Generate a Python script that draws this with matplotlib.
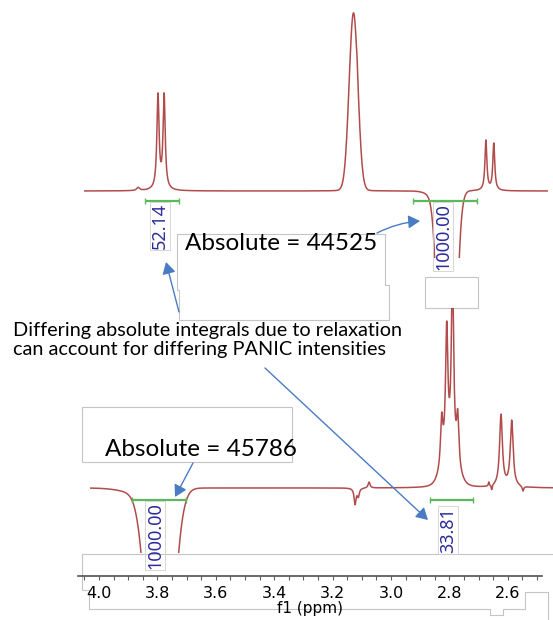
import numpy as np
import matplotlib
matplotlib.use("Agg")
import matplotlib.pyplot as plt
from matplotlib.patches import Rectangle, FancyArrowPatch, Polygon
from matplotlib.ticker import MultipleLocator, FixedLocator

W, H = 553, 620

# top spectrum, peaks (ppm, height, half width in ppm)
top_lor_ppm = [3.866, 3.798, 3.777, 3.116, 3.13, 2.675, 2.648]
top_lor_height = [3, 94, 94, 6, 4, 50, 47]
top_lor_width = [0.006, 0.0045, 0.0045, 0.002, 0.02, 0.004, 0.004]
top_gau_ppm = [3.1284, 2.808, 2.845]
top_gau_height = [174, -600, -5]
top_gau_width = [0.0150, 0.02, 0.03]

# bottom (PANIC) spectrum
bot_lor_ppm = [3.123, 3.112, 3.075, 2.8264, 2.8092, 2.7894, 2.7716, 2.665, 2.655, 2.6233, 2.5866, 2.548]
bot_lor_height = [-16, -8, 6, 47, 125, 180, 49, 4, -5, 72, 66, -5]
bot_lor_width = [0.004, 0.004, 0.004, 0.0048, 0.0048, 0.0048, 0.0048, 0.002, 0.002, 0.0058, 0.0058, 0.003]
bot_gau_ppm = [3.791, 3.86, 2.7997]
bot_gau_height = [-340, -5, 30]
bot_gau_width = [0.035, 0.06, 0.024]

# integrals: label, from, to, label position (ppm)
top_int_labels = ["52.14", "1000.00"]
top_int_from = [3.842, 2.925]
top_int_to = [3.726, 2.705]
top_int_at = [3.791, 2.822]
bot_int_labels = ["1000.00", "33.81"]
bot_int_from = [3.887, 2.866]
bot_int_to = [3.702, 2.719]
bot_int_at = [3.808, 2.805]

tick_values = [4.0, 3.8, 3.6, 3.4, 3.2, 3.0, 2.8, 2.6]
abs_top = "Absolute = 44525"
abs_bot = "Absolute = 45786"
note = "Differing absolute integrals due to relaxation\ncan account for differing PANIC intensities"

RED = "#b24c4c"
GREEN = "#5cb85c"
NAVY = "#2b2b9c"
BLUE = "#4a7cc4"
GREY = "#c4c4c4"


def ppm_at(x):
    # pixel column -> chemical shift
    return 4.0 - (x - 99) / 292.0


def px_axes(fig, left, top, right, bottom, z):
    ax = fig.add_axes([left / W, 1 - bottom / H, (right - left) / W, (bottom - top) / H])
    ax.set_zorder(z)
    ax.patch.set_alpha(0)
    return ax


def spectrum(x, lp, lh, lw, gp, gh, gw):
    y = np.zeros_like(x)
    for p, h, w in zip(lp, lh, lw):
        y += h / (1 + ((x - p) / w) ** 2)
    for p, h, w in zip(gp, gh, gw):
        y += h * np.exp(-((x - p) ** 2) / (2 * w ** 2))
    return y


def integrals(ax, labels, starts, ends, at, y_line, y_text):
    for lab, a, b, c, yt in zip(labels, starts, ends, at, y_text):
        ax.plot([a, b], [y_line, y_line], color=GREEN, lw=1.6, marker="|", ms=4,
                clip_on=False, solid_capstyle="butt")
        ax.text(c, yt, lab, rotation=90, ha="center", va="top", color=NAVY,
                fontsize=13, family="Noto Sans", clip_on=False,
                bbox=dict(boxstyle="square,pad=0.05", fc="none", ec="#d0d0d0", lw=0.6))


fig = plt.figure(figsize=(W / 100, H / 100), dpi=100)

# background: grey outline boxes of the screenshot
bg = fig.add_axes([0, 0, 1, 1])
bg.set_zorder(0)
bg.set_xlim(0, W)
bg.set_ylim(H, 0)
bg.axis("off")
bg.add_patch(Polygon([(177, 234), (385, 234), (385, 285), (389, 285), (389, 320), (179, 320), (179, 290), (177, 290)],
                     closed=True, fc="white", ec=GREY, lw=0.8))
bg.add_patch(Rectangle((425, 277), 53, 31, fc="white", ec=GREY, lw=0.8))
bg.add_patch(Rectangle((82, 407), 210, 55, fc="white", ec=GREY, lw=0.8))
bg.plot([553, 82, 82, 89, 89, 490, 490, 503, 503, 525, 525, 548, 548],
        [554, 554, 590, 590, 609, 609, 615, 615, 609, 609, 592, 592, 620], color=GREY, lw=0.8)

# top spectrum
ax1 = px_axes(fig, 84, 5, 548, 258, 1)
x1 = np.linspace(ppm_at(84), ppm_at(548), 5000)
ax1.plot(x1, spectrum(x1, top_lor_ppm, top_lor_height, top_lor_width,
                      top_gau_ppm, top_gau_height, top_gau_width), color=RED, lw=1.1)
ax1.set_xlim(ppm_at(84), ppm_at(548))
ax1.set_ylim(191 - 258, 191 - 5)
ax1.axis("off")
integrals(ax1, top_int_labels, top_int_from, top_int_to, top_int_at, -10, [-12, -12])

# bottom spectrum
ax2 = px_axes(fig, 90, 308, 553, 553, 1)
x2 = np.linspace(ppm_at(90), ppm_at(553), 5000)
ax2.plot(x2, spectrum(x2, bot_lor_ppm, bot_lor_height, bot_lor_width,
                      bot_gau_ppm, bot_gau_height, bot_gau_width), color=RED, lw=1.1)
ax2.set_xlim(ppm_at(90), ppm_at(553))
ax2.set_ylim(488 - 553, 488 - 308)
ax2.axis("off")
integrals(ax2, bot_int_labels, bot_int_from, bot_int_to, bot_int_at, -12, [-14, -19])

# ppm scale
ax3 = px_axes(fig, 78, 575, 542, 576, 1)
ax3.set_xlim(ppm_at(78), ppm_at(542))
ax3.set_yticks([])
for s in ["top", "left", "right"]:
    ax3.spines[s].set_visible(False)
ax3.spines["bottom"].set_color("#505050")
ax3.spines["bottom"].set_linewidth(1.2)
ax3.xaxis.set_major_locator(FixedLocator(tick_values))
ax3.xaxis.set_minor_locator(MultipleLocator(0.05))
ax3.set_xticklabels([f"{v:.1f}" for v in tick_values])
ax3.tick_params(axis="x", which="both", length=3, width=0.8, color="#606060", pad=4,
                labelsize=11.5)
ax3.set_xlabel("f1 (ppm)", fontsize=11, labelpad=0)

# foreground: annotation texts and arrows
fg = fig.add_axes([0, 0, 1, 1])
fg.set_zorder(3)
fg.patch.set_alpha(0)
fg.set_xlim(0, W)
fg.set_ylim(H, 0)
fg.axis("off")
fg.text(185, 243, abs_top, fontsize=17.5, family="Lato", va="center", ha="left")
fg.text(105, 450, abs_bot, fontsize=17.5, family="Lato", va="center", ha="left")
fg.text(13, 340, note, fontsize=14.3, family="Lato", va="center", ha="left", linespacing=1.12)

arrows = [((179, 312), (166, 262), 0.0),
          ((377, 233), (420, 221), -0.1),
          ((193, 463), (175, 497), 0.0),
          ((265, 368), (428, 520), 0.0)]
for tail, head, rad in arrows:
    fg.add_patch(FancyArrowPatch(tail, head, arrowstyle="-|>,head_length=7,head_width=4",
                                 connectionstyle=f"arc3,rad={rad}", color=BLUE, lw=1.0,
                                 shrinkA=0, shrinkB=0))

fig.savefig("out.png", dpi=100)
